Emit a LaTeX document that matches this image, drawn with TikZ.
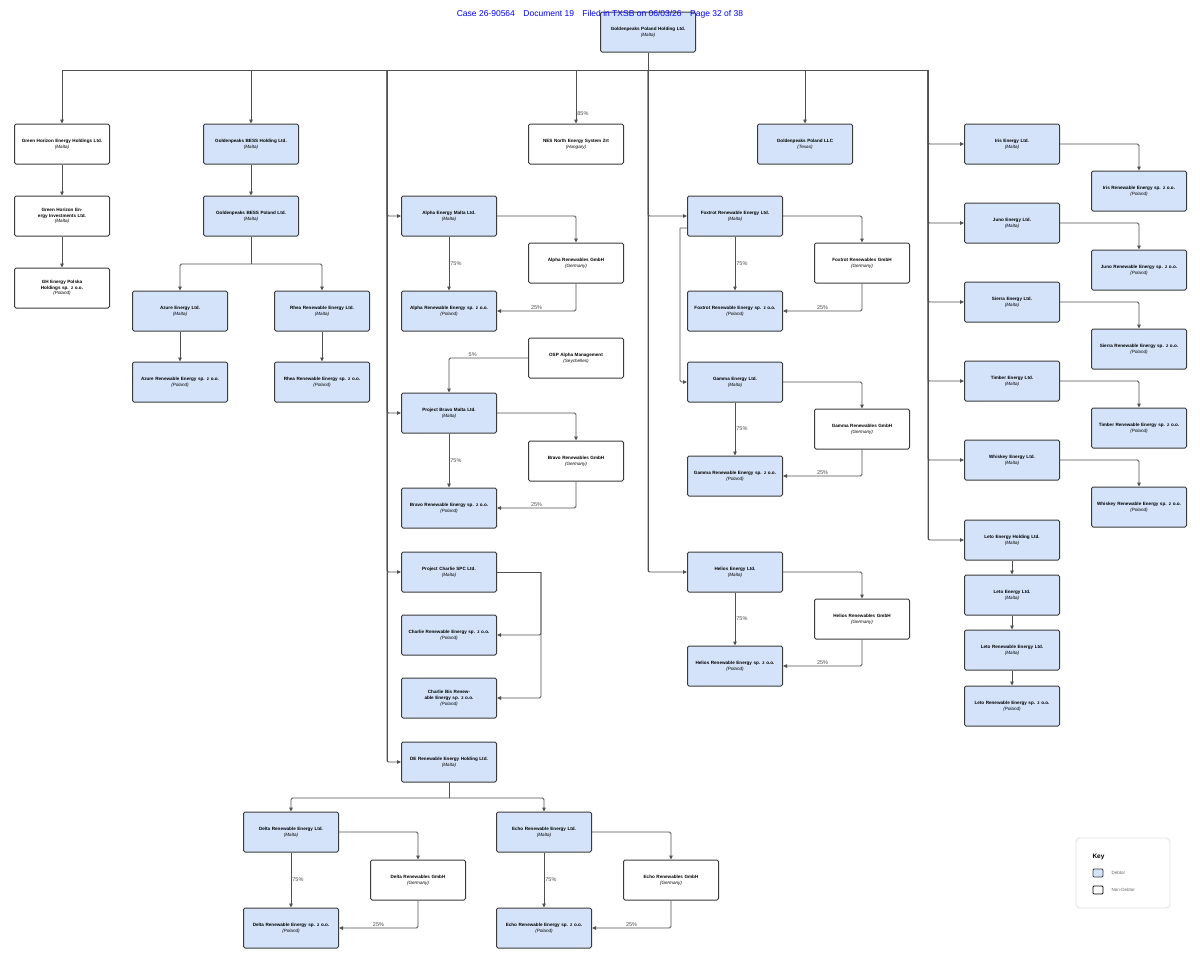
\documentclass[tikz,border=0pt]{standalone}
\usepackage{fontspec}
\setmainfont{Liberation Sans}
\usetikzlibrary{arrows.meta,calc}
\definecolor{debt}{HTML}{D4E3FA}
\definecolor{edge}{HTML}{3C3C3C}
\tikzset{
 ent/.style={draw=edge,line width=1pt,rounded corners=1.5pt,minimum width=95pt,minimum height=40pt,text width=84pt,align=center,font=\fontsize{4.6}{5.8}\selectfont,inner sep=1pt},
 deb/.style={ent,fill=debt},
 non/.style={ent,fill=white},
 con/.style={draw=edge!90,line width=0.8pt,rounded corners=1.5pt},
 arr/.style={con,-{Triangle[length=4pt,width=3.5pt]}},
 pct/.style={font=\fontsize{5.5}{6}\selectfont,text=black!70,inner sep=1pt}
}
\newcommand{\ent}[2]{\textbf{#1}\\\textit{(#2)}}
\begin{document}
\begin{tikzpicture}[x=1pt,y=-1pt]
\useasboundingbox (0,0) rectangle (1200,962);
\fill[white] (0,0) rectangle (1200,962);
% coordinates
\coordinate (bL) at (62,70); \coordinate (bR) at (928,70);
\coordinate (tA) at (387,70); \coordinate (tF) at (648,70);
% nodes
\node[deb] (top) at (648,32) {\ent{Goldenpeaks Poland Holding Ltd.}{Malta}};
\node[non] (gh1) at (62,144) {\ent{Green Horizon Energy Holdings Ltd.}{Malta}};
\node[non] (gh2) at (62,216) {\ent{Green Horizon Energy Investments Ltd.}{Malta}};
\node[non] (gh3) at (62,288) {\ent{GH Energy Polska Holdings sp. z o.o.}{Poland}};
\node[deb] (bh) at (251,144) {\ent{Goldenpeaks BESS Holding Ltd.}{Malta}};
\node[deb] (bp) at (251,216) {\ent{Goldenpeaks BESS Poland Ltd.}{Malta}};
\node[deb] (az) at (180,311) {\ent{Azure Energy Ltd.}{Malta}};
\node[deb] (rh) at (322,311) {\ent{Rhea Renewable Energy Ltd.}{Malta}};
\node[deb] (azr) at (180,382) {\ent{Azure Renewable Energy sp. z o.o.}{Poland}};
\node[deb] (rhr) at (322,382) {\ent{Rhea Renewable Energy sp. z o.o.}{Poland}};
\node[non] (nes) at (576,144) {\ent{NES North Energy System Zrt}{Hungary}};
\node[deb] (llc) at (805,144) {\ent{Goldenpeaks Poland LLC}{Texas}};
% alpha column
\node[deb] (al) at (449,216) {\ent{Alpha Energy Malta Ltd.}{Malta}};
\node[non] (alg) at (576,263) {\ent{Alpha Renewables GmbH}{Germany}};
\node[deb] (alr) at (449,311) {\ent{Alpha Renewable Energy sp. z o.o.}{Poland}};
\node[non] (osp) at (576,358) {\ent{OSP Alpha Management}{Seychelles}};
\node[deb] (br) at (449,413) {\ent{Project Bravo Malta Ltd.}{Malta}};
\node[non] (brg) at (576,461) {\ent{Bravo Renewables GmbH}{Germany}};
\node[deb] (brr) at (449,508) {\ent{Bravo Renewable Energy sp. z o.o.}{Poland}};
\node[deb] (ch) at (449,572) {\ent{Project Charlie SPC Ltd.}{Malta}};
\node[deb] (chr) at (449,635) {\ent{Charlie Renewable Energy sp. z o.o.}{Poland}};
\node[deb] (chb) at (449,698) {\ent{Charlie Bis Renewable Energy sp. z o.o.}{Poland}};
\node[deb] (de) at (449,762) {\ent{DE Renewable Energy Holding Ltd.}{Malta}};
\node[deb] (dl) at (291,832) {\ent{Delta Renewable Energy Ltd.}{Malta}};
\node[non] (dlg) at (418,880) {\ent{Delta Renewables GmbH}{Germany}};
\node[deb] (dlr) at (291,928) {\ent{Delta Renewable Energy sp. z o.o.}{Poland}};
\node[deb] (ec) at (544,832) {\ent{Echo Renewable Energy Ltd.}{Malta}};
\node[non] (ecg) at (671,880) {\ent{Echo Renewables GmbH}{Germany}};
\node[deb] (ecr) at (544,928) {\ent{Echo Renewable Energy sp. z o.o.}{Poland}};
% foxtrot column
\node[deb] (fx) at (735,216) {\ent{Foxtrot Renewable Energy Ltd.}{Malta}};
\node[non] (fxg) at (862,263) {\ent{Foxtrot Renewables GmbH}{Germany}};
\node[deb] (fxr) at (735,311) {\ent{Foxtrot Renewable Energy sp. z o.o.}{Poland}};
\node[deb] (gm) at (735,382) {\ent{Gamma Energy Ltd.}{Malta}};
\node[non] (gmg) at (862,429) {\ent{Gamma Renewables GmbH}{Germany}};
\node[deb] (gmr) at (735,476) {\ent{Gamma Renewable Energy sp. z o.o.}{Poland}};
\node[deb] (he) at (735,572) {\ent{Helios Energy Ltd.}{Malta}};
\node[non] (heg) at (862,619) {\ent{Helios Renewables GmbH}{Germany}};
\node[deb] (her) at (735,666) {\ent{Helios Renewable Energy sp. z o.o.}{Poland}};
% right column
\node[deb] (ir) at (1012,144) {\ent{Iris Energy Ltd.}{Malta}};
\node[deb] (irr) at (1139,191) {\ent{Iris Renewable Energy sp. z o.o.}{Poland}};
\node[deb] (ju) at (1012,223) {\ent{Juno Energy Ltd.}{Malta}};
\node[deb] (jur) at (1139,270) {\ent{Juno Renewable Energy sp. z o.o.}{Poland}};
\node[deb] (si) at (1012,302) {\ent{Sierra Energy Ltd.}{Malta}};
\node[deb] (sir) at (1139,349) {\ent{Sierra Renewable Energy sp. z o.o.}{Poland}};
\node[deb] (ti) at (1012,381) {\ent{Timber Energy Ltd.}{Malta}};
\node[deb] (tir) at (1139,428) {\ent{Timber Renewable Energy sp. z o.o.}{Poland}};
\node[deb] (wh) at (1012,460) {\ent{Whiskey Energy Ltd.}{Malta}};
\node[deb] (whr) at (1139,507) {\ent{Whiskey Renewable Energy sp. z o.o.}{Poland}};
\node[deb] (lh) at (1012,540) {\ent{Leto Energy Holding Ltd.}{Malta}};
\node[deb] (le) at (1012,595) {\ent{Leto Energy Ltd.}{Malta}};
\node[deb] (lr) at (1012,650) {\ent{Leto Renewable Energy Ltd.}{Malta}};
\node[deb] (lp) at (1012,706) {\ent{Leto Renewable Energy sp. z o.o.}{Poland}};
% top bus
\draw[con] (top.south) -- (tF);
\draw[con] (bL) -- (bR);
\draw[arr] (bL) -- (gh1.north);
\draw[arr] (bh.north|-bL) -- (bh.north);
\draw[arr] (nes.north|-bL) -- node[pct,right,pos=0.82]{85\%} (nes.north);
\draw[arr] (llc.north|-bL) -- (llc.north);
\draw[arr] (gh1) -- (gh2); \draw[arr] (gh2) -- (gh3);
\draw[arr] (bh) -- (bp);
\coordinate (bpj) at (251,264);
\draw[con] (bp.south) -- (bpj);
\draw[arr] (bpj) -| (az.north); \draw[arr] (bpj) -| (rh.north);
\draw[arr] (az) -- (azr); \draw[arr] (rh) -- (rhr);
% alpha trunk
\draw[con] (tA) -- (387,762);
\draw[arr] (tA) |- (al.west);
\draw[arr] (tA) |- (br.west);
\draw[arr] (tA) |- (ch.west);
\draw[arr] (tA) |- (de.west);
\draw[arr] (al.east) -| (alg.north);
\draw[arr] (al) -- node[pct,right]{75\%} (alr);
\draw[arr] (alg.south) |- node[pct,above,pos=0.75]{25\%} (alr.east);
\draw[arr] (osp.west) -| node[pct,above,pos=0.35]{5\%} (br.north);
\draw[arr] (br.east) -| (brg.north);
\draw[arr] (br) -- node[pct,right]{75\%} (brr);
\draw[arr] (brg.south) |- node[pct,above,pos=0.75]{25\%} (brr.east);
\coordinate (chj) at (541,572);
\draw[con] (ch.east) -- (chj);
\draw[arr] (chj) |- (chr.east);
\draw[arr] (chj) |- (chb.east);
\coordinate (dej) at (449,798);
\draw[con] (de.south) -- (dej);
\draw[arr] (dej) -| (dl.north); \draw[arr] (dej) -| (ec.north);
\draw[arr] (dl.east) -| (dlg.north);
\draw[arr] (dl) -- node[pct,right]{75\%} (dlr);
\draw[arr] (dlg.south) |- node[pct,above,pos=0.75]{25\%} (dlr.east);
\draw[arr] (ec.east) -| (ecg.north);
\draw[arr] (ec) -- node[pct,right]{75\%} (ecr);
\draw[arr] (ecg.south) |- node[pct,above,pos=0.75]{25\%} (ecr.east);
% foxtrot trunk
\draw[con] (tF) -- (648,572);
\draw[arr] (tF) |- (fx.west);
\draw[arr] (tF) |- (he.west);
\draw[arr] (fx.east) -| (fxg.north);
\draw[arr] (fx) -- node[pct,right]{75\%} (fxr);
\draw[arr] (fxg.south) |- node[pct,above,pos=0.75]{25\%} (fxr.east);
\coordinate (fxj) at (680,228);
\draw[arr] (fxj) -- ++(7,0) (fxj) |- (gm.west);
\draw[arr] (gm.east) -| (gmg.north);
\draw[arr] (gm) -- node[pct,right]{75\%} (gmr);
\draw[arr] (gmg.south) |- node[pct,above,pos=0.75]{25\%} (gmr.east);
\draw[arr] (he.east) -| (heg.north);
\draw[arr] (he) -- node[pct,right]{75\%} (her);
\draw[arr] (heg.south) |- node[pct,above,pos=0.75]{25\%} (her.east);
% right trunk
\draw[con] (bR) -- (928,540);
\foreach \n in {ir,ju,si,ti,wh,lh} {\draw[arr] (bR) |- (\n.west);}
\draw[arr] (ir.east) -| (irr.north);
\draw[arr] (ju.east) -| (jur.north);
\draw[arr] (si.east) -| (sir.north);
\draw[arr] (ti.east) -| (tir.north);
\draw[arr] (wh.east) -| (whr.north);
\draw[arr] (lh) -- (le); \draw[arr] (le) -- (lr); \draw[arr] (lr) -- (lp);
% key
\draw[black!12,line width=0.8pt,rounded corners=4pt,fill=white] (1076,838) rectangle (1170,908);
\node[font=\bfseries\fontsize{6.5}{7}\selectfont,anchor=west] (kt) at (1089,857) {Key};
\node[draw=edge,fill=debt,line width=0.9pt,minimum width=10pt,minimum height=8pt,inner sep=0pt,rounded corners=1pt] (k1) at (1098,873) {};
\node[font=\fontsize{4.5}{5}\selectfont,text=black!60,anchor=west] (k1t) at (1108,873) {Debtor};
\node[draw=black,fill=white,line width=0.9pt,minimum width=10pt,minimum height=8pt,inner sep=0pt,rounded corners=1pt] (k2) at (1098,890) {};
\node[font=\fontsize{4.5}{5}\selectfont,text=black!60,anchor=west] (k2t) at (1108,890) {Non-Debtor};
% header
\node[text=blue,font=\fontsize{8.5}{9}\selectfont] (hdr) at (600,14) {Case 26-90564\quad Document 19\quad Filed in TXSB on 06/03/26\quad Page 32 of 38};
\end{tikzpicture}
\end{document}
